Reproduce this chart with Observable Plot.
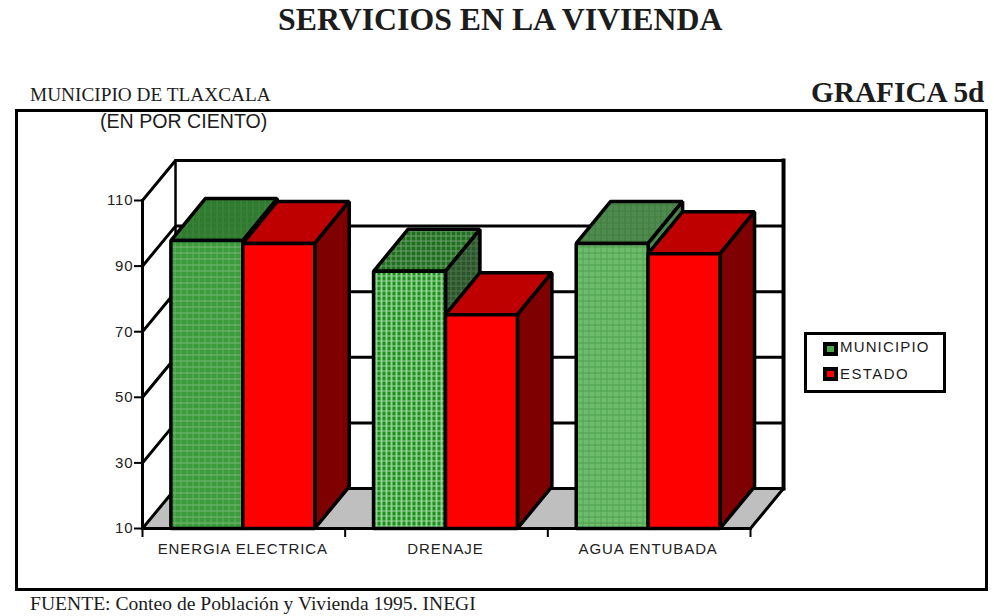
<!DOCTYPE html>
<html lang="es">
<head>
<meta charset="utf-8">
<script src="https://cdn.jsdelivr.net/npm/d3@7"></script>
<script src="https://cdn.jsdelivr.net/npm/@observablehq/plot@0.6"></script>
<style>
  html, body { margin: 0; padding: 0; background: #fff; }
  #page { position: relative; width: 994px; height: 616px; overflow: hidden; color: #1c1c1c; }
  #page > div { position: absolute; white-space: nowrap; }
  #page svg.plot-root { position: absolute; left: 0; top: 0; }
  .serif { font-family: "Liberation Serif", serif; }
  .sans { font-family: "Liberation Sans", sans-serif; }
  .sw { position: absolute; box-sizing: border-box; width: 15px; height: 14px; border: 4px solid #000; }
</style>
</head>
<body>
<svg width="0" height="0" style="position:absolute">
  <defs>
    <pattern id="g1f" width="6" height="6" patternUnits="userSpaceOnUse"><rect width="6" height="6" fill="#3c9c3c"/><rect width="1" height="6" fill="#62ae62"/><rect width="6" height="1" fill="#74b874"/></pattern>
    <pattern id="g1t" width="6" height="6" patternUnits="userSpaceOnUse"><rect width="6" height="6" fill="#2f7a2f"/><rect width="1" height="6" fill="#3f8a3f"/><rect width="6" height="1" fill="#3a7f3a"/></pattern>
    <pattern id="g2f" width="5" height="5" patternUnits="userSpaceOnUse"><rect width="5" height="5" fill="#1c8f1c"/><rect width="2" height="5" fill="#8fcf8f"/><rect width="5" height="1" fill="#a0d6a0"/></pattern>
    <pattern id="g2t" width="5" height="5" patternUnits="userSpaceOnUse"><rect width="5" height="5" fill="#1f6f1f"/><rect width="1" height="5" fill="#6f9f6f"/><rect width="5" height="1" fill="#6f9f6f"/></pattern>
    <pattern id="g2s" width="5" height="5" patternUnits="userSpaceOnUse"><rect width="5" height="5" fill="#2a552a"/><rect width="1" height="5" fill="#4d754d"/><rect width="5" height="1" fill="#4d754d"/></pattern>
    <pattern id="g3f" width="6" height="6" patternUnits="userSpaceOnUse"><rect width="6" height="6" fill="#6cbc6c"/><rect width="1" height="6" fill="#52a552"/><rect width="6" height="1" fill="#4d9f4d"/></pattern>
    <pattern id="g3t" width="6" height="6" patternUnits="userSpaceOnUse"><rect width="6" height="6" fill="#4f8a4f"/><rect width="1" height="6" fill="#3f7a3f"/><rect width="6" height="1" fill="#437f43"/></pattern>
  </defs>
</svg>
<div id="page"></div>
<script>
const categories = ["ENERGIA ELECTRICA", "DRENAJE", "AGUA ENTUBADA"];
const municipio = [97.8, 88.4, 96.9];
const estado = [96.9, 75.2, 93.8];
const yTicks = [10, 30, 50, 70, 90, 110];
const seriesNames = ["MUNICIPIO", "ESTADO"];

// Depth of the 3D projection, in scale units
const wallDX = 0.163, wallDY = 12.2;
const barDX = 0.17, barDY = 12.8;
const yMin = 10, yMax = 110, nCat = categories.length;
const barStart = 0.14, barMid = 0.495, barEnd = 0.85;

const greens = [
  {front: "url(#g1f)", top: "url(#g1t)", side: "url(#g1t)"},
  {front: "url(#g2f)", top: "url(#g2t)", side: "url(#g2s)"},
  {front: "url(#g3f)", top: "url(#g3t)", side: "url(#g3t)"}
];
const reds = {front: "#ff0000", top: "#bf0000", side: "#7f0000"};

const poly = (pts, fill, strokeWidth = 3.5) =>
  Plot.line(pts, {x: "0", y: "1", fill, stroke: "#000", strokeWidth, curve: "linear-closed", strokeLinejoin: "miter"});
const seg = (pts, strokeWidth) =>
  Plot.line(pts, {x: "0", y: "1", stroke: "#000", strokeWidth, strokeLinecap: "square"});

function barMarks(x1, x2, v, c) {
  return [
    poly([[x1, v], [x1 + barDX, v + barDY], [x2 + barDX, v + barDY], [x2, v]], c.top),
    poly([[x2, yMin], [x2 + barDX, yMin + barDY], [x2 + barDX, v + barDY], [x2, v]], c.side),
    poly([[x1, yMin], [x2, yMin], [x2, v], [x1, v]], c.front)
  ];
}

const marks = [];
// floor
marks.push(Plot.line([[0, yMin], [wallDX, yMin + wallDY], [nCat + wallDX, yMin + wallDY], [nCat, yMin]],
  {x: "0", y: "1", fill: "#bfbfbf", stroke: "none", curve: "linear-closed"}));
// back wall grid and left-wall diagonals
for (const t of yTicks) {
  marks.push(seg([[0, t], [wallDX, t + wallDY], [nCat + wallDX, t + wallDY]], 3));
}
// wall edges
marks.push(seg([[wallDX, yMin + wallDY], [wallDX, yMax + wallDY]], 2.5));
marks.push(seg([[nCat + wallDX, yMin + wallDY], [nCat + wallDX, yMax + wallDY]], 4));
marks.push(seg([[0, yMin], [0, yMax]], 3));
marks.push(seg([[nCat, yMin], [nCat + wallDX, yMin + wallDY]], 3));
marks.push(seg([[0, yMin], [nCat, yMin]], 3));
// bars
categories.forEach((_, i) => {
  marks.push(...barMarks(i + barStart, i + barMid, municipio[i], greens[i]));
  marks.push(...barMarks(i + barMid, i + barEnd, estado[i], reds));
});
// axes
marks.push(Plot.axisY({ticks: yTicks, tickSize: 8, tickPadding: 1, strokeWidth: 2, stroke: "#000", label: null, fontSize: 15, tickFormat: d => String(d)}));
marks.push(Plot.axisX({ticks: [0, 1, 2, 3], tickSize: 9, strokeWidth: 2, stroke: "#000", label: null, tickFormat: () => ""}));
marks.push(Plot.axisX({ticks: categories.map((_, i) => i + 0.495), tickSize: 0, tickPadding: 15, label: null, fontSize: 15, tickFormat: d => categories[Math.floor(d)]}));

const chart = Plot.plot({
  width: 994, height: 616,
  marginLeft: 142, marginRight: 244, marginTop: 200, marginBottom: 88,
  x: {domain: [0, nCat]},
  y: {domain: [yMin, yMax]},
  style: {fontFamily: "'Liberation Sans', sans-serif", letterSpacing: "0.9px", color: "#222", background: "transparent"},
  marks
});
chart.classList.add("plot-root");

const page = document.getElementById("page");
page.appendChild(chart);

function add(text, cls, css) {
  const d = document.createElement("div");
  d.className = cls;
  if (text) d.textContent = text;
  d.style.cssText = css;
  page.appendChild(d);
  return d;
}
add("", "", "left:15px;top:109px;width:967px;height:476px;border:3px solid #000;");
add("SERVICIOS EN LA VIVIENDA", "serif", "left:278px;top:2px;font-size:31.8px;line-height:36px;font-weight:bold;");
add("GRAFICA 5d", "serif", "left:811px;top:75px;font-size:29.3px;line-height:34px;font-weight:bold;");
add("MUNICIPIO DE TLAXCALA", "serif", "left:30px;top:85px;font-size:19.3px;line-height:20px;");
add("(EN POR CIENTO)", "sans", "left:100px;top:111px;font-size:19.6px;line-height:20px;");
add("FUENTE: Conteo de Población y Vivienda 1995. INEGI", "serif", "left:30px;top:594px;font-size:19.6px;line-height:19px;");

// legend
add("", "", "left:804px;top:332px;width:136px;height:55px;border:3px solid #000;");
add("", "sw", "left:823px;top:342px;background:#4aa54a;");
add("", "sw", "left:823px;top:367px;background:#ff0000;");
add(seriesNames[0], "sans", "left:840px;top:338px;font-size:15px;line-height:17px;letter-spacing:1.15px;");
add(seriesNames[1], "sans", "left:840px;top:365px;font-size:15px;line-height:17px;letter-spacing:1.4px;");
</script>
</body>
</html>
